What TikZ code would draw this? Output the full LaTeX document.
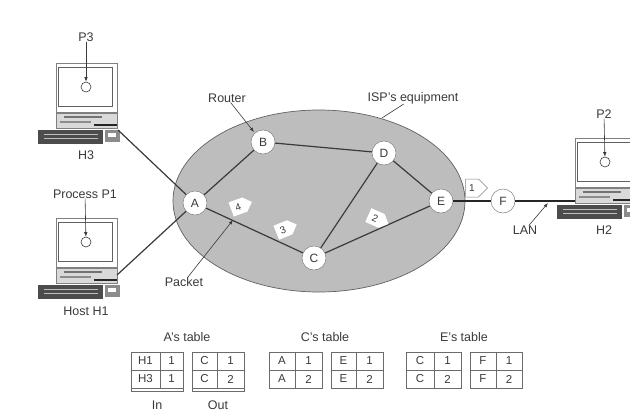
\documentclass[tikz,border=0pt]{standalone}
\usepackage{fontspec}
\setmainfont{Liberation Sans}
\usetikzlibrary{shapes.symbols,shapes.geometric,arrows.meta}
\definecolor{ink}{HTML}{3A3A3A}
\definecolor{isp}{HTML}{BDBDBD}
\tikzset{
  x=1pt,y=-1pt,
  lbl/.style={font=\fontsize{12.5}{14}\selectfont,text=ink,inner sep=0pt},
  router/.style={circle,draw=gray,line width=.5pt,fill=white,minimum size=24pt,inner sep=0pt,font=\fontsize{12}{14}\selectfont,text=ink},
  link/.style={draw=ink,line width=1.2pt},
  fat/.style={draw=black!85,line width=1.9pt},
  leader/.style={draw=ink,line width=.6pt},
  callout/.style={draw=ink,line width=.6pt,-{Latex[length=4.5pt,width=3.5pt]}},
  packet/.style={signal,signal to=east,signal from=nowhere,fill=white,minimum width=22pt,minimum height=15pt,inner sep=1pt,font=\fontsize{10}{11}\selectfont,text=ink},
  tabline/.style={draw=ink!75,line width=.55pt},
  cell/.style={font=\fontsize{11.5}{13}\selectfont,text=ink,inner sep=0pt},
  computer/.pic={
    \draw[draw=gray,line width=.8pt,fill=white] (-30,-25) rectangle (31,24);
    \draw[draw=ink!80,line width=.8pt,fill=white] (-28,-21) rectangle (26,18);
    \node[circle,draw=ink,line width=.6pt,fill=white,minimum size=10pt,inner sep=0pt] (proc) at (0,-1) {};
    \draw[draw=gray,line width=.6pt,fill=black!15] (-30,25) rectangle (31,40);
    \fill[black!55] (-22,28) rectangle (16,30);
    \fill[black!45] (-26,33) rectangle (5,35);
    \fill[black!85] (8,36) rectangle (31,38);
    \fill[black!70] (-48,42) rectangle (17,56);
    \fill[black!25] (-42,46) rectangle (12,47);
    \fill[black!25] (-42,50) rectangle (12,51);
    \fill[black!45] (19,42) rectangle (34,54);
    \fill[white] (22,45) rectangle (30,49);
    \coordinate (hi) at (32,42);
    \coordinate (lo) at (31,32);
    \coordinate (west) at (-30,38);
  }
}
\begin{document}
\begin{tikzpicture}
\clip (0,0) rectangle (630,416);
\fill[white] (0,0) rectangle (630,416);

% ISP cloud
\node[ellipse,draw=ink!80,line width=.7pt,fill=isp,minimum width=292pt,minimum height=182pt,inner sep=0pt] (cloud) at (319,201) {};

% routers
\node[router] (A) at (195,203) {A};
\node[router] (B) at (263,142) {B};
\node[router] (D) at (384,153) {D};
\node[router] (E) at (441,201) {E};
\node[router] (C) at (314,258) {C};
\node[router] (F) at (503,201) {F};

% computers
\pic (h3) at (86,88) {computer};
\pic (h1) at (86,243) {computer};
\pic (h2) at (605,163) {computer};

% links
\draw[link] (h3hi) -- (A);
\draw[link] (h1lo) -- (A);
\draw[link] (A) -- (B);
\draw[link] (B) -- (D);
\draw[link] (A) -- (C);
\draw[link] (D) -- (C);
\draw[link] (D) -- (E);
\draw[link] (C) -- (E);
\draw[fat] (E) -- (F);
\draw[fat] (F) -- (h2west);

% packets
\node[packet,rotate=20] (p4) at (238,207) {4};
\node[packet,rotate=22] (p3) at (283,230) {3};
\node[packet,rotate=-24] (p2) at (375,218) {2};
\node[packet,draw=gray,line width=.5pt,minimum height=18pt] (p1) at (472,188) {1};

% labels
\node[lbl] (P3) at (86,37) {P3};
\node[lbl] (H3) at (86,155) {H3};
\node[lbl] (P1) at (85,194) {Process P1};
\node[lbl] (H1) at (86,311) {Host H1};
\node[lbl] (P2) at (604,114) {P2};
\node[lbl] (H2) at (604,230) {H2};
\node[lbl] (LAN) at (525,230) {LAN};
\node[lbl] (router) at (227,98) {Router};
\node[lbl] (equip) at (413,98) {ISP's equipment};
\node[lbl] (packet) at (184,282) {Packet};

\coordinate (routerEnd) at (254,132);
\coordinate (ispEnd) at (382,118);
\coordinate (pktEnd) at (233,220);
\coordinate (lanEnd) at (548,203);

\draw[callout] (P3) -- (h3proc);
\draw[callout] (P1) -- (h1proc);
\draw[callout] (P2) -- (h2proc);
\draw[callout] (router) -- (routerEnd);
\draw[leader] (equip) -- (ispEnd);
\draw[callout] (packet) -- (pktEnd);
\draw[callout] (LAN) -- (lanEnd);

% tables
\newcommand{\rtab}[7]{%
  \draw[tabline] (#1,352) rectangle (#2,388);
  \draw[tabline] (#1,370) -- (#2,370);
  \draw[tabline] (#3,352) -- (#3,388);
  \path (#1,361) -- node[cell]{#4} (#3,361);
  \path (#3,361) -- node[cell]{#5} (#2,361);
  \path (#1,379) -- node[cell]{#6} (#3,379);
  \path (#3,379) -- node[cell]{#7} (#2,379);
}
\node[lbl] (ta) at (187,337) {A's table};
\node[lbl] (tc) at (325,337) {C's table};
\node[lbl] (te) at (464,337) {E's table};
\rtab{131}{183}{160}{H1}{1}{H3}{1}
\rtab{192}{244}{217}{C}{1}{C}{2}
\rtab{269}{322}{295}{A}{1}{A}{2}
\rtab{331}{383}{356}{E}{1}{E}{2}
\rtab{406}{461}{434}{C}{1}{C}{2}
\rtab{470}{522}{496}{F}{1}{F}{2}
\draw[tabline] (131,388) -- (131,391) -- (183,391) -- (183,388);
\draw[tabline] (192,388) -- (192,391) -- (244,391) -- (244,388);
\node[lbl] (in) at (157,405) {In};
\node[lbl] (out) at (218,405) {Out};
\end{tikzpicture}
\end{document}
